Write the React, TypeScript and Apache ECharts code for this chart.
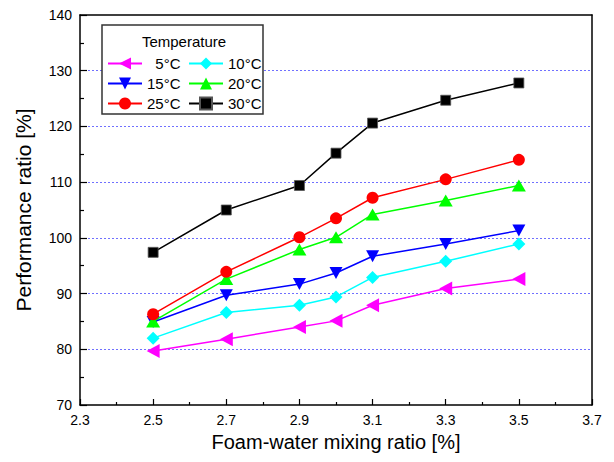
import React, { useEffect, useRef } from "react";
import * as echarts from "echarts";

const xValues = [2.5, 2.7, 2.9, 3.0, 3.1, 3.3, 3.5];
const xMajorTicks = [2.3, 2.5, 2.7, 2.9, 3.1, 3.3, 3.5, 3.7];
const xMinorTicks = [2.4, 2.6, 2.8, 3.0, 3.2, 3.4, 3.6];
const seriesNames = ["5°C", "10°C", "15°C", "20°C", "25°C", "30°C"];
const t5 = [79.7, 81.8, 84.0, 85.1, 87.9, 90.9, 92.6];
const t10 = [82.0, 86.6, 87.9, 89.4, 92.9, 95.8, 98.9];
const t15 = [84.9, 89.7, 91.7, 93.7, 96.7, 98.9, 101.3];
const t20 = [85.0, 92.6, 97.9, 100.1, 104.2, 106.7, 109.4];
const t25 = [86.3, 93.9, 100.1, 103.5, 107.2, 110.5, 114.0];
const t30 = [97.4, 105.0, 109.4, 115.2, 120.6, 124.7, 127.8];
const allValues = [t5, t10, t15, t20, t25, t30];

const colors = ["#ff00ff", "#00ffff", "#0000ff", "#00ff00", "#ff0000", "#000000"];
const symbols = [
  "path://M0,5L10,0L10,10Z",
  "diamond",
  "path://M0,0L10,0L5,10Z",
  "triangle",
  "circle",
  "rect",
];
const symbolSizes: any[] = [[13, 14], [13, 13], [13, 12], [14, 12], [12, 12], [10, 10]];

const FONT = "'Liberation Sans', Arial, sans-serif";

export default function App() {
  const ref = useRef<HTMLDivElement>(null);
  useEffect(() => {
    document.body.style.margin = "0";
    const chart = echarts.init(ref.current!, undefined, { renderer: "svg" });
    const series = allValues.map((vals, i) => ({
      name: seriesNames[i],
      type: "line",
      data: xValues.map((x, j) => [x, vals[j]]),
      symbol: symbols[i],
      symbolSize: symbolSizes[i],
      showSymbol: true,
      lineStyle: { color: colors[i], width: 1.5 },
      itemStyle: {
        color: colors[i],
        borderColor: i === 5 ? "#555" : colors[i],
        borderWidth: i === 5 ? 0.8 : 0,
      },
      z: 2 + i,
    }));
    const gridColors = ["rgba(0,0,0,0)", "#7070ff", "#7070ff", "#7070ff", "#7070ff", "#7070ff", "#7070ff", "rgba(0,0,0,0)"];
    chart.setOption({
      animation: false,
      textStyle: { fontFamily: FONT },
      grid: { left: 80, right: 22, top: 15, bottom: 57, show: false },
      xAxis: [
        {
          type: "value",
          min: 2.3,
          max: 3.7,
          position: "bottom",
          name: "Foam-water mixing ratio [%]",
          nameLocation: "middle",
          nameGap: 26,
          nameTextStyle: { fontSize: 20, color: "#000", fontFamily: FONT },
          axisLine: { show: true, lineStyle: { color: "#000", width: 1.5 } },
          axisTick: { show: true, inside: true, length: 6, customValues: xMajorTicks, lineStyle: { color: "#000", width: 1.2 } },
          axisLabel: { show: true, customValues: xMajorTicks, margin: 8, fontSize: 14, color: "#000", fontFamily: FONT, formatter: (v: number) => v.toFixed(1) },
          splitLine: { show: false },
        },
        {
          type: "value",
          min: 2.3,
          max: 3.7,
          position: "top",
          axisLine: { show: true, lineStyle: { color: "#000", width: 1.5 } },
          axisTick: { show: false },
          axisLabel: { show: false },
          splitLine: { show: false },
        },
        {
          type: "value",
          min: 2.3,
          max: 3.7,
          position: "bottom",
          axisLine: { show: false },
          axisTick: { show: true, inside: true, length: 3, customValues: xMinorTicks, lineStyle: { color: "#000", width: 1.2 } },
          axisLabel: { show: false },
          splitLine: { show: false },
        },
      ],
      yAxis: [
        {
          type: "value",
          min: 70,
          max: 140,
          interval: 10,
          position: "left",
          name: "Performance ratio [%]",
          nameLocation: "middle",
          nameGap: 46,
          nameTextStyle: { fontSize: 21, color: "#000", fontFamily: FONT },
          axisLine: { show: true, lineStyle: { color: "#000", width: 1.5 } },
          axisTick: { show: true, inside: true, length: 7, lineStyle: { color: "#000", width: 1.2 } },
          minorTick: { show: true, splitNumber: 2, length: 4, lineStyle: { color: "#000", width: 1.2 } },
          axisLabel: { margin: 8, fontSize: 14, color: "#000", fontFamily: FONT },
          splitLine: { show: true, lineStyle: { color: gridColors, type: [2, 2], width: 1 } },
        },
        {
          type: "value",
          min: 70,
          max: 140,
          position: "right",
          axisLine: { show: true, lineStyle: { color: "#000", width: 1.5 } },
          axisTick: { show: false },
          axisLabel: { show: false },
          splitLine: { show: false },
        },
      ],
      legend: [
        {
          orient: "vertical",
          left: 102,
          top: 51,
          itemWidth: 34,
          itemHeight: 15,
          itemGap: 5,
          data: [seriesNames[0], seriesNames[2], seriesNames[4]],
          formatter: (name: string) => (name === "5°C" ? "\u2007" + name : name),
          textStyle: { fontSize: 15, color: "#000", fontFamily: FONT },
        },
        {
          orient: "vertical",
          left: 183,
          top: 51,
          itemWidth: 34,
          itemHeight: 15,
          itemGap: 5,
          data: [seriesNames[1], seriesNames[3], seriesNames[5]],
          textStyle: { fontSize: 15, color: "#000", fontFamily: FONT },
        },
      ],
      graphic: [
        {
          type: "rect",
          z: 3,
          shape: { x: 102, y: 25, width: 161, height: 89 },
          style: { fill: "#fff", stroke: "#333", lineWidth: 1.5 },
        },
        {
          type: "text",
          z: 4,
          x: 184,
          y: 41,
          style: { text: "Temperature", fontSize: 15, fill: "#000", fontFamily: FONT, align: "center", verticalAlign: "middle" },
        },
      ],
      series,
    });
    return () => chart.dispose();
  }, []);
  return <div ref={ref} style={{ width: 614, height: 462 }} />;
}
